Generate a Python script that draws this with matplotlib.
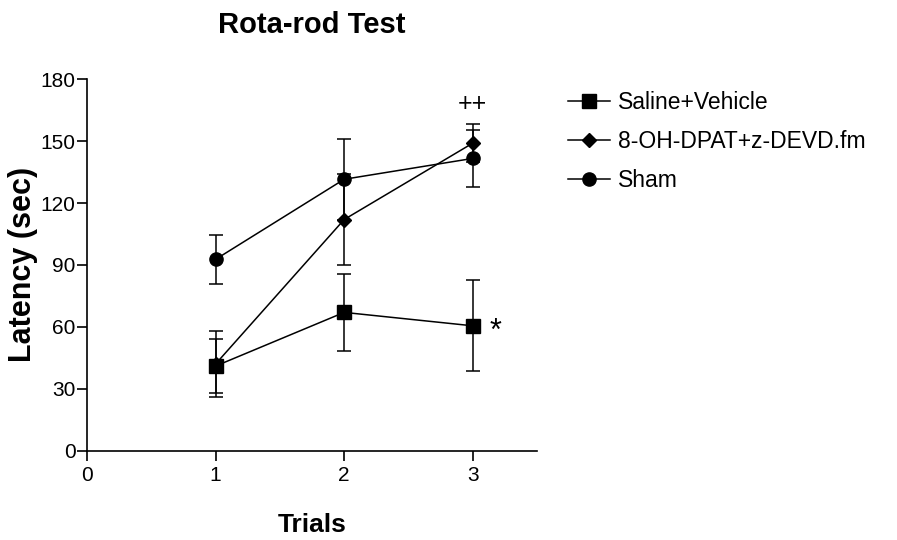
import matplotlib
matplotlib.use("Agg")
import matplotlib.pyplot as plt

plt.rcParams['font.family'] = ['Liberation Sans', 'DejaVu Sans']

trials = [1, 2, 3]
series_names = ["Saline+Vehicle", "8-OH-DPAT+z-DEVD.fm", "Sham"]
saline = [41, 67, 60.5]
saline_err = [13, 18.5, 22]
dpat = [42, 112, 149]
dpat_err = [16, 22, 9.3]
sham = [92.7, 131.5, 141.6]
sham_err = [12, 19.5, 13.7]
markers = ['s', 'D', 'o']
msizes = [10, 7.5, 9.5]
yticks = [0, 30, 60, 90, 120, 150, 180]
xticks = [0, 1, 2, 3]

fig = plt.figure(figsize=(8.97, 5.40), dpi=100)
ax = fig.add_axes([0.097, 0.1654, 0.5017, 0.688])

for vals, errs, m, ms, name in zip([saline, dpat, sham], [saline_err, dpat_err, sham_err],
                                   markers, msizes, series_names):
    ax.errorbar(trials, vals, yerr=errs, color='black', marker=m, markersize=ms,
                linewidth=1.1, elinewidth=1.1, capsize=5, capthick=1.1, label=name)

ax.set_xlim(0, 3.5)
ax.set_ylim(0, 180)
ax.set_xticks(xticks)
ax.set_yticks(yticks)
ax.spines['top'].set_visible(False)
ax.spines['right'].set_visible(False)
for s in ['left', 'bottom']:
    ax.spines[s].set_linewidth(1.2)
ax.tick_params(direction='out', length=7.5, width=1.2, labelsize=15, pad=0.8)
ax.tick_params(axis='x', pad=3.5)

ax.set_title("Rota-rod Test", fontsize=21, fontweight='bold', pad=33)
ax.set_xlabel("Trials", fontsize=19, fontweight='bold', labelpad=20)
ax.set_ylabel("Latency (sec)", fontsize=22, fontweight='bold', labelpad=2)

ax.text(3, 168, "++", ha='center', va='center', fontsize=18)
ax.text(3.18, 57.5, "*", ha='center', va='center', fontsize=22)

handles, labels = ax.get_legend_handles_labels()
handles = [h[0] for h in handles]
leg = fig.legend(handles, labels, loc='upper left', bbox_to_anchor=(0.633, 0.831),
                 frameon=False, fontsize=16.5, handlelength=1.83, handletextpad=0.35,
                 labelspacing=0.70, borderaxespad=0, borderpad=0)

fig.savefig("out.png", dpi=100)
